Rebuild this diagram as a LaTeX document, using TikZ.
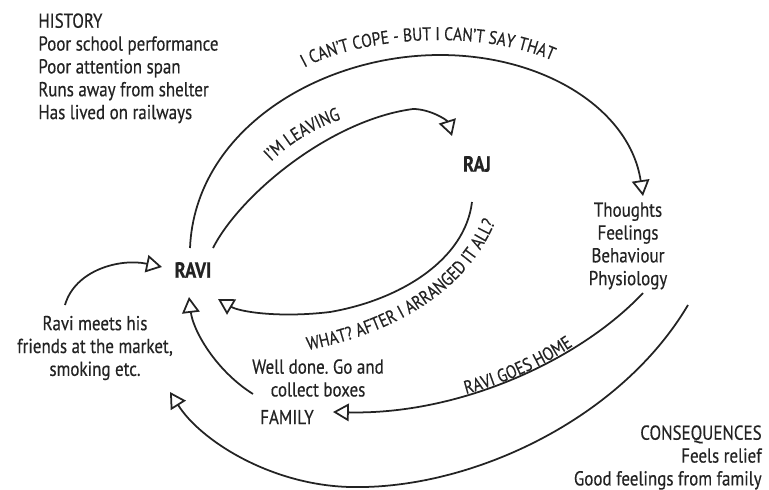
\documentclass[tikz,border=0pt]{standalone}
\usepackage{fontspec}
\setmainfont[FakeStretch=0.84, FakeBold=0.4]{PT Sans}
\usetikzlibrary{positioning, arrows.meta, decorations.text}
\definecolor{ink}{RGB}{35,35,35}
\frenchspacing

\begin{document}
\begin{tikzpicture}[x=0.02cm, y=-0.02cm,
    txt/.style={font=\fontsize{11.5}{13}\selectfont, text=ink, inner sep=0pt},
    who/.style={font=\fontsize{12.5}{13}\selectfont\bfseries, text=ink, inner sep=0pt},
    flow/.style={-{Triangle[open, length=9pt, width=10pt]}, line width=1pt, draw=ink},
    says/.style={decorate, decoration={text along path, text align=center, text color=ink,
        text={|\fontsize{10.5}{12}\selectfont|#1}}}]
    \useasboundingbox (0,0) rectangle (769,490);

    % Background and people
    \node[txt, anchor=north west, align=left] (history) at (38,13)
        {HISTORY\\Poor school performance\\Poor attention span\\Runs away from shelter\\Has lived on railways};
    \node[who] (ravi) at (193,270) {RAVI};
    \node[who] (raj) at (477,164) {RAJ};
    \node[txt, align=center] (mind) at (628,246) {Thoughts\\Feelings\\Behaviour\\Physiology};
    \node[txt, align=center] (friends) at (95,348) {Ravi meets his\\friends at the market,\\smoking etc.};
    \node[txt, align=center] (praise) at (318,378) {Well done. Go and\\collect boxes};
    \node[txt] (family) at (287,417) {FAMILY};
    \node[txt, anchor=north east, align=right] (conseq) at (762,425)
        {CONSEQUENCES\\Feels relief\\Good feelings from family};

    % Loops between the nodes
    \draw[flow] ([shift={(-3,-22)}]ravi.center) .. controls (195,130) and (320,55) .. (440,55)
        .. controls (545,55) and (630,110) .. ([shift={(15,-50)}]mind.center);
    \draw[flow] ([shift={(20,-22)}]ravi.center) .. controls (240,195) and (330,120) .. (413,109)
        .. controls (430,109) and (447,120) .. ([shift={(-25,-28)}]raj.center);
    \draw[flow] ([shift={(-5,38)}]raj.center) .. controls (465,260) and (400,300) .. (330,312)
        .. controls (280,318) and (240,312) .. ([shift={(25,29)}]ravi.center);
    \draw[flow] ([shift={(-34,-23)}]family.center) .. controls (215,370) and (193,330) .. ([shift={(-4,27)}]ravi.center);
    \draw[flow] ([shift={(-30,-43)}]friends.center) .. controls (75,270) and (120,258) .. ([shift={(-31,-3)}]ravi.center);
    \draw[flow] ([shift={(15,47)}]mind.center) .. controls (580,360) and (460,415) .. ([shift={(46,-5)}]family.center);
    \draw[flow] ([shift={(60,59)}]mind.center) .. controls (620,420) and (470,490) .. (350,487)
        .. controls (270,485) and (200,440) .. ([shift={(75,44)}]friends.center);

    % What is said along the loops
    \path[says={I CAN'T COPE - BUT I CAN'T SAY THAT}] (297,72) .. controls (350,38) and (480,25) .. (560,64);
    \path[says={I'M LEAVING}] (263,170) .. controls (285,146) and (315,126) .. (352,116);
    \path[says={WHAT? AFTER I ARRANGED IT ALL?}] (298,352) .. controls (400,334) and (472,287) .. (499,213);
    \path[says={RAVI GOES HOME}] (458,396) .. controls (500,386) and (545,366) .. (580,341);
\end{tikzpicture}
\end{document}
